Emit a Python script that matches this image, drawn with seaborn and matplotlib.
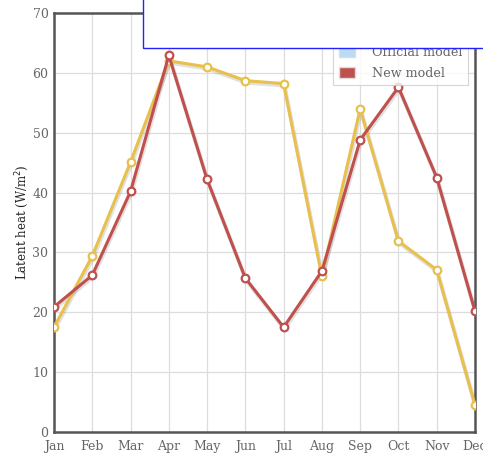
"""Latent heat by month: official vs new model."""
import matplotlib
matplotlib.use('Agg')
import matplotlib.pyplot as plt
import matplotlib.patches as mpatches
import numpy as np
import pandas as pd
import seaborn as sns

sns.set_theme(style='whitegrid')
plt.rcParams['font.family'] = ['DejaVu Serif']

MONTHS = ['Jan', 'Feb', 'Mar', 'Apr', 'May', 'Jun',
          'Jul', 'Aug', 'Sep', 'Oct', 'Nov', 'Dec']
OFFICIAL = [17.5, 29.4, 45.1, 62.0, 61.0, 58.7, 58.2, 26.0, 54.0, 31.9, 27.1, 4.5]
NEW = [20.9, 26.2, 40.2, 62.9, 42.2, 25.7, 17.5, 26.9, 48.8, 57.6, 42.5, 20.2]

YELLOW = '#e8c04e'
RED = '#c0504d'
LEGEND_BLUE = '#b8dcf7'
AXIS_GRAY = '#555555'
TEXT_GRAY = '#666666'

df = pd.DataFrame({
    'month': np.arange(len(MONTHS)).tolist() * 2,
    'value': OFFICIAL + NEW,
    'model': ['Official model'] * len(MONTHS) + ['New model'] * len(MONTHS),
})

fig = plt.figure(figsize=(4.83, 4.53), dpi=100)
ax = fig.add_axes([54 / 483, 21 / 453, 421 / 483, 419 / 453])

# soft shadow under each line
for name in ('Official model', 'New model'):
    sub = df[df['model'] == name]
    ax.plot(sub['month'] + 0.02, sub['value'] - 0.3, color='#999999',
            alpha=0.3, lw=3, zorder=2)

sns.lineplot(data=df, x='month', y='value', hue='model',
             palette={'Official model': YELLOW, 'New model': RED},
             marker='o', markersize=5.5, markerfacecolor='white',
             markeredgewidth=1.6, linewidth=2.2, legend=False, ax=ax,
             zorder=3)
# marker edges take line colour
for line in ax.lines[2:]:
    line.set_markeredgecolor(line.get_color())

ax.set_xlim(0, 11)
ax.set_ylim(0, 70)
ax.set_xticks(range(len(MONTHS)))
ax.set_xticklabels(MONTHS)
ax.set_yticks(range(0, 71, 10))
ax.set_xlabel('')
ax.set_ylabel('Latent heat (W/m$^2$)', fontsize=8.5, color='#222222',
              labelpad=1)
ax.tick_params(axis='both', length=0, labelsize=9, colors=TEXT_GRAY, pad=4)
ax.tick_params(axis='x', pad=6)
ax.grid(True, color='#dddddd', linewidth=0.9)
for sp in ax.spines.values():
    sp.set_color(AXIS_GRAY)
    sp.set_linewidth(1.8)
for lbl in ax.get_xticklabels():
    lbl.set_clip_on(False)

handles = [mpatches.Patch(facecolor=LEGEND_BLUE, edgecolor='#dddddd', label='Official model'),
           mpatches.Patch(facecolor=RED, edgecolor='#dddddd', label='New model')]
leg = ax.legend(handles=handles, loc='lower right',
                bbox_to_anchor=((468 - 54) / 421, (432 - 85) / 419),
                fontsize=9.2, frameon=True, fancybox=False, borderaxespad=0,
                handlelength=1.25, handleheight=0.95, borderpad=0.4,
                labelspacing=0.65, handletextpad=1.4)
leg.get_frame().set_edgecolor('#cccccc')
leg.get_frame().set_linewidth(0.8)
for t in leg.get_texts():
    t.set_color(TEXT_GRAY)

# blank box with blue border over the top-right corner
fig.patches.append(mpatches.Rectangle((143 / 483, 1 - 48 / 453), 1, 1,
                                      transform=fig.transFigure,
                                      facecolor='white', edgecolor='#2222ff',
                                      linewidth=1.0, zorder=10))

fig.savefig('out.png', dpi=100)
